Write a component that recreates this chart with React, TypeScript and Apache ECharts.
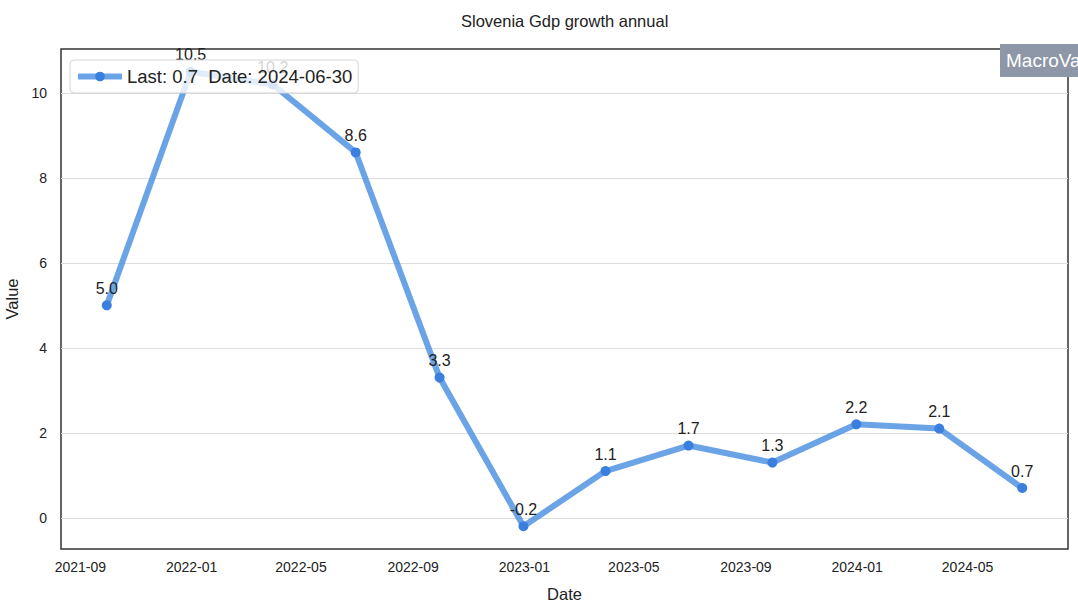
import React, { useEffect, useRef } from "react";
import * as echarts from "echarts";

const dates = ["2021-09-30","2021-12-31","2022-03-31","2022-06-30","2022-09-30","2022-12-31","2023-03-31","2023-06-30","2023-09-30","2023-12-31","2024-03-31","2024-06-30"];
const values = [5.0, 10.5, 10.2, 8.6, 3.3, -0.2, 1.1, 1.7, 1.3, 2.2, 2.1, 0.7];
const xTicks = ["2021-09-01","2022-01-01","2022-05-01","2022-09-01","2023-01-01","2023-05-01","2023-09-01","2024-01-01","2024-05-01"];
const yTicks = [0, 2, 4, 6, 8, 10];
const title = "Slovenia Gdp growth annual";
const seriesName = "Last: 0.7  Date: 2024-06-30";

const ts = (s: string) => new Date(s + "T00:00:00Z").getTime();

export default function App() {
  const ref = useRef<HTMLDivElement>(null);
  useEffect(() => {
    document.body.style.margin = "0";
    const chart = echarts.init(ref.current!, null, { renderer: "svg" });
    const times = dates.map(ts);
    const first = times[0], last = times[times.length - 1];
    const pad = (last - first) * 0.05;
    const vmin = Math.min(...values), vmax = Math.max(...values);
    const vpad = (vmax - vmin) * 0.05;
    const font = "Liberation Sans, Arial, sans-serif";
    chart.setOption({
      animation: false,
      textStyle: { fontFamily: font },
      title: {
        text: title, left: 456, top: 7,
        textStyle: { fontSize: 16.5, fontWeight: "normal", color: "#222", fontFamily: font },
      },
      grid: {
        left: 61, right: 10, top: 49, bottom: 59, containLabel: false, outerBoundsMode: "none",
        show: true, borderColor: "#333", borderWidth: 1.5, backgroundColor: "transparent",
      },
      legend: {
        left: 70, top: 60, orient: "horizontal",
        itemWidth: 44, itemHeight: 12, itemGap: 10,
        padding: [7, 6, 7, 5], borderColor: "#d6d6d6", borderWidth: 1, borderRadius: 4,
        backgroundColor: "rgba(255,255,255,0.8)",
        lineStyle: { width: 6 },
        textStyle: { fontSize: 18.5, color: "#222", fontFamily: font },
        data: [seriesName],
      },
      xAxis: {
        type: "value", min: first - pad, max: last + pad,
        name: "Date", nameLocation: "middle", nameGap: 36,
        nameTextStyle: { fontSize: 16.5, color: "#222", fontFamily: font },
        axisLine: { show: false },
        axisTick: { show: false, customValues: xTicks.map(ts) },
        splitLine: { show: false },
        axisLabel: {
          customValues: xTicks.map(ts), fontSize: 14, color: "#222", margin: 11, fontFamily: font,
          formatter: (v: number) => { const d = new Date(v); return d.getUTCFullYear() + "-" + String(d.getUTCMonth() + 1).padStart(2, "0"); },
        },
      },
      yAxis: {
        type: "value", min: vmin - vpad, max: vmax + vpad,
        name: "Value", nameLocation: "middle", nameGap: 36,
        nameTextStyle: { fontSize: 16.5, color: "#222", fontFamily: font },
        axisLine: { show: false },
        axisTick: { show: false, customValues: yTicks },
        axisLabel: { customValues: yTicks, fontSize: 14, color: "#222", margin: 14, fontFamily: font },
        splitLine: { show: true, lineStyle: { color: "#dddddd", width: 1 } },
      },
      series: [{
        name: seriesName, type: "line",
        data: times.map((t, i) => [t, values[i]]),
        symbol: "circle", symbolSize: 10,
        lineStyle: { color: "rgba(70,140,225,0.8)", width: 6 },
        itemStyle: { color: "#3a7fdf" },
        label: {
          show: true, position: "top", distance: 4, fontSize: 16, color: "#222", fontFamily: font,
          formatter: (p: any) => Number(p.value[1]).toFixed(1),
        },
        z: 2,
      }],
      graphic: [{
        type: "text", left: 1000, top: 44, z: 100,
        style: {
          text: "MacroVar", fill: "#fff", backgroundColor: "#8d97a8",
          padding: [7, 6, 7, 6], font: "19px Liberation Sans, Arial, sans-serif",
        },
      }],
    });
    return () => chart.dispose();
  }, []);
  return <div ref={ref} style={{ width: 1078, height: 608 }} />;
}
